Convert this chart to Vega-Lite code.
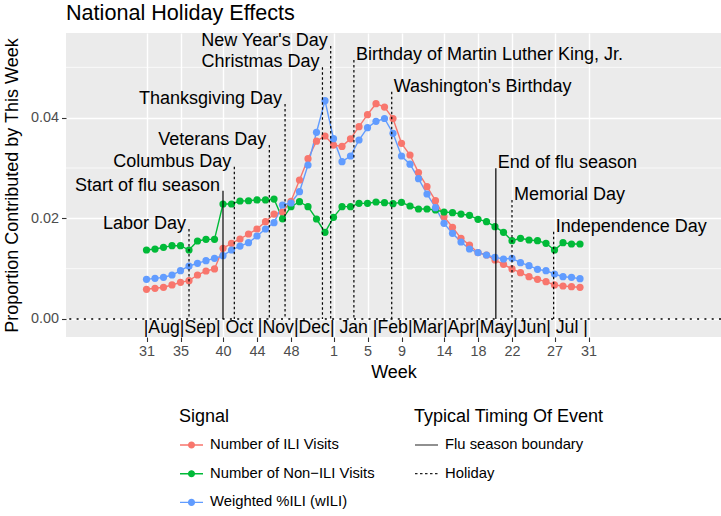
{
  "$schema": "https://vega.github.io/schema/vega-lite/v6.json",
  "width": 655,
  "height": 304,
  "autosize": {"type": "none"},
  "padding": {"left": 66, "top": 33, "right": 0, "bottom": 179},
  "background": "white",
  "title": {"text": "National Holiday Effects", "anchor": "start", "frame": "group", "fontSize": 21.6, "fontWeight": "normal", "color": "black", "baseline": "alphabetic", "offset": 15.7, "dy": 25.8},
  "config": {
    "font": "Liberation Sans",
    "view": {"fill": "#EBEBEB", "stroke": null},
    "axis": {"domain": false, "gridColor": "white", "gridWidth": 1.4, "tickColor": "#333333", "tickSize": 4.5, "tickWidth": 1.1, "labelColor": "#4D4D4D", "labelFontSize": 14.4, "labelPadding": 3, "titleFontSize": 18, "titleFontWeight": "normal", "titleColor": "black", "labelFont": "Liberation Sans", "titleFont": "Liberation Sans"},
    "legend": {"titleFontSize": 18, "titleFontWeight": "normal", "titleColor": "black", "labelFontSize": 14.8, "labelColor": "black", "titleFont": "Liberation Sans", "labelFont": "Liberation Sans", "padding": 0, "labelLimit": 400, "titleLimit": 400}
  },
  "datasets": {
    "series": [
      {"t": 0, "Number of ILI Visits": 0.0059, "Number of Non−ILI Visits": 0.01371, "Weighted %ILI (wILI)": 0.00788},
      {"t": 1, "Number of ILI Visits": 0.0061, "Number of Non−ILI Visits": 0.0139, "Weighted %ILI (wILI)": 0.00808},
      {"t": 2, "Number of ILI Visits": 0.0063, "Number of Non−ILI Visits": 0.01424, "Weighted %ILI (wILI)": 0.00828},
      {"t": 3, "Number of ILI Visits": 0.00676, "Number of Non−ILI Visits": 0.01457, "Weighted %ILI (wILI)": 0.00874},
      {"t": 4, "Number of ILI Visits": 0.00729, "Number of Non−ILI Visits": 0.01457, "Weighted %ILI (wILI)": 0.0096},
      {"t": 5, "Number of ILI Visits": 0.00762, "Number of Non−ILI Visits": 0.01371, "Weighted %ILI (wILI)": 0.01053},
      {"t": 6, "Number of ILI Visits": 0.00874, "Number of Non−ILI Visits": 0.0155, "Weighted %ILI (wILI)": 0.01106},
      {"t": 7, "Number of ILI Visits": 0.00954, "Number of Non−ILI Visits": 0.01583, "Weighted %ILI (wILI)": 0.01159},
      {"t": 8, "Number of ILI Visits": 0.00994, "Number of Non−ILI Visits": 0.01583, "Weighted %ILI (wILI)": 0.01205},
      {"t": 9, "Number of ILI Visits": 0.01404, "Number of Non−ILI Visits": 0.02285, "Weighted %ILI (wILI)": 0.01258},
      {"t": 10, "Number of ILI Visits": 0.01504, "Number of Non−ILI Visits": 0.02285, "Weighted %ILI (wILI)": 0.01371},
      {"t": 11, "Number of ILI Visits": 0.0159, "Number of Non−ILI Visits": 0.02345, "Weighted %ILI (wILI)": 0.0145},
      {"t": 12, "Number of ILI Visits": 0.01689, "Number of Non−ILI Visits": 0.0235, "Weighted %ILI (wILI)": 0.01516},
      {"t": 13, "Number of ILI Visits": 0.01788, "Number of Non−ILI Visits": 0.02365, "Weighted %ILI (wILI)": 0.01649},
      {"t": 14, "Number of ILI Visits": 0.01934, "Number of Non−ILI Visits": 0.02365, "Weighted %ILI (wILI)": 0.01788},
      {"t": 15, "Number of ILI Visits": 0.02086, "Number of Non−ILI Visits": 0.02384, "Weighted %ILI (wILI)": 0.01914},
      {"t": 16, "Number of ILI Visits": 0.02125, "Number of Non−ILI Visits": 0.0199, "Weighted %ILI (wILI)": 0.02265},
      {"t": 17, "Number of ILI Visits": 0.0234, "Number of Non−ILI Visits": 0.02232, "Weighted %ILI (wILI)": 0.02305},
      {"t": 18, "Number of ILI Visits": 0.02762, "Number of Non−ILI Visits": 0.02331, "Weighted %ILI (wILI)": 0.0253},
      {"t": 19, "Number of ILI Visits": 0.03185, "Number of Non−ILI Visits": 0.02232, "Weighted %ILI (wILI)": 0.0306},
      {"t": 20, "Number of ILI Visits": 0.03533, "Number of Non−ILI Visits": 0.01987, "Weighted %ILI (wILI)": 0.0371},
      {"t": 21, "Number of ILI Visits": 0.03636, "Number of Non−ILI Visits": 0.01722, "Weighted %ILI (wILI)": 0.04338},
      {"t": 22, "Number of ILI Visits": 0.03457, "Number of Non−ILI Visits": 0.0202, "Weighted %ILI (wILI)": 0.03583},
      {"t": 23, "Number of ILI Visits": 0.0343, "Number of Non−ILI Visits": 0.02232, "Weighted %ILI (wILI)": 0.03126},
      {"t": 24, "Number of ILI Visits": 0.0358, "Number of Non−ILI Visits": 0.02232, "Weighted %ILI (wILI)": 0.03239},
      {"t": 25, "Number of ILI Visits": 0.03822, "Number of Non−ILI Visits": 0.02298, "Weighted %ILI (wILI)": 0.03557},
      {"t": 26, "Number of ILI Visits": 0.0406, "Number of Non−ILI Visits": 0.02298, "Weighted %ILI (wILI)": 0.03802},
      {"t": 27, "Number of ILI Visits": 0.04278, "Number of Non−ILI Visits": 0.02325, "Weighted %ILI (wILI)": 0.03928},
      {"t": 28, "Number of ILI Visits": 0.04212, "Number of Non−ILI Visits": 0.02312, "Weighted %ILI (wILI)": 0.03984},
      {"t": 29, "Number of ILI Visits": 0.03984, "Number of Non−ILI Visits": 0.02292, "Weighted %ILI (wILI)": 0.0369},
      {"t": 30, "Number of ILI Visits": 0.03491, "Number of Non−ILI Visits": 0.02318, "Weighted %ILI (wILI)": 0.03239},
      {"t": 31, "Number of ILI Visits": 0.03259, "Number of Non−ILI Visits": 0.02245, "Weighted %ILI (wILI)": 0.03076},
      {"t": 32, "Number of ILI Visits": 0.0291, "Number of Non−ILI Visits": 0.02186, "Weighted %ILI (wILI)": 0.02789},
      {"t": 33, "Number of ILI Visits": 0.02629, "Number of Non−ILI Visits": 0.02186, "Weighted %ILI (wILI)": 0.02484},
      {"t": 34, "Number of ILI Visits": 0.02351, "Number of Non−ILI Visits": 0.02166, "Weighted %ILI (wILI)": 0.02212},
      {"t": 35, "Number of ILI Visits": 0.02033, "Number of Non−ILI Visits": 0.02126, "Weighted %ILI (wILI)": 0.01901},
      {"t": 36, "Number of ILI Visits": 0.01822, "Number of Non−ILI Visits": 0.02113, "Weighted %ILI (wILI)": 0.01702},
      {"t": 37, "Number of ILI Visits": 0.01603, "Number of Non−ILI Visits": 0.02086, "Weighted %ILI (wILI)": 0.0153},
      {"t": 38, "Number of ILI Visits": 0.0147, "Number of Non−ILI Visits": 0.0206, "Weighted %ILI (wILI)": 0.01391},
      {"t": 39, "Number of ILI Visits": 0.01318, "Number of Non−ILI Visits": 0.0198, "Weighted %ILI (wILI)": 0.01318},
      {"t": 40, "Number of ILI Visits": 0.01272, "Number of Non−ILI Visits": 0.01934, "Weighted %ILI (wILI)": 0.01272},
      {"t": 41, "Number of ILI Visits": 0.01172, "Number of Non−ILI Visits": 0.01835, "Weighted %ILI (wILI)": 0.01225},
      {"t": 42, "Number of ILI Visits": 0.01086, "Number of Non−ILI Visits": 0.01722, "Weighted %ILI (wILI)": 0.01192},
      {"t": 43, "Number of ILI Visits": 0.00994, "Number of Non−ILI Visits": 0.01556, "Weighted %ILI (wILI)": 0.01205},
      {"t": 44, "Number of ILI Visits": 0.0092, "Number of Non−ILI Visits": 0.01603, "Weighted %ILI (wILI)": 0.01119},
      {"t": 45, "Number of ILI Visits": 0.0084, "Number of Non−ILI Visits": 0.0157, "Weighted %ILI (wILI)": 0.0106},
      {"t": 46, "Number of ILI Visits": 0.00788, "Number of Non−ILI Visits": 0.01556, "Weighted %ILI (wILI)": 0.00987},
      {"t": 47, "Number of ILI Visits": 0.00742, "Number of Non−ILI Visits": 0.01504, "Weighted %ILI (wILI)": 0.0096},
      {"t": 48, "Number of ILI Visits": 0.00676, "Number of Non−ILI Visits": 0.01371, "Weighted %ILI (wILI)": 0.00894},
      {"t": 49, "Number of ILI Visits": 0.00656, "Number of Non−ILI Visits": 0.01516, "Weighted %ILI (wILI)": 0.0084},
      {"t": 50, "Number of ILI Visits": 0.00642, "Number of Non−ILI Visits": 0.0149, "Weighted %ILI (wILI)": 0.00828},
      {"t": 51, "Number of ILI Visits": 0.0063, "Number of Non−ILI Visits": 0.0149, "Weighted %ILI (wILI)": 0.00801}
    ],
    "events": [
      {"t": 5.0, "top": 0.01788, "label": "Labor Day", "type": "Holiday", "side": "r"},
      {"t": 9.0, "top": 0.02549, "label": "Start of flu season", "type": "Flu season boundary", "side": "r"},
      {"t": 10.33, "top": 0.03026, "label": "Columbus Day", "type": "Holiday", "side": "r"},
      {"t": 14.45, "top": 0.03457, "label": "Veterans Day", "type": "Holiday", "side": "r"},
      {"t": 16.3, "top": 0.04272, "label": "Thanksgiving Day", "type": "Holiday", "side": "r"},
      {"t": 20.7, "top": 0.05001, "label": "Christmas Day", "type": "Holiday", "side": "r"},
      {"t": 21.67, "top": 0.05425, "label": "New Year's Day", "type": "Holiday", "side": "r"},
      {"t": 24.4, "top": 0.05146, "label": "Birthday of Martin Luther King, Jr.", "type": "Holiday", "side": "l"},
      {"t": 28.85, "top": 0.04516, "label": "Washington's Birthday", "type": "Holiday", "side": "l"},
      {"t": 41.1, "top": 0.02994, "label": "End of flu season", "type": "Flu season boundary", "side": "l"},
      {"t": 43.0, "top": 0.02365, "label": "Memorial Day", "type": "Holiday", "side": "l"},
      {"t": 47.9, "top": 0.01735, "label": "Independence Day", "type": "Holiday", "side": "l"}
    ],
    "months": [
      {"t": 25.8, "y": -0.00278, "label": "|Aug|Sep| Oct |Nov|Dec| Jan |Feb|Mar|Apr|May|Jun| Jul |"}
    ],
    "minorgrid": [{"g": 0.01}, {"g": 0.03}, {"g": 0.05}],
    "zero": [{"g": 0}]
  },
  "layer": [
    {
      "data": {"name": "minorgrid"},
      "mark": {"type": "rule", "color": "white", "strokeWidth": 0.7},
      "encoding": {"y": {"field": "g", "type": "quantitative", "scale": {"domain": [-0.003577, 0.05683], "nice": false, "zero": false}}}
    },
    {
      "data": {"name": "series"},
      "transform": [{"fold": ["Number of ILI Visits", "Number of Non−ILI Visits", "Weighted %ILI (wILI)"], "as": ["s", "v"]}],
      "encoding": {
        "x": {"field": "t", "type": "quantitative", "scale": {"domain": [-9.471, 67.588], "nice": false, "zero": false},
              "axis": {"values": [0, 4, 9, 13, 17, 22, 26, 30, 35, 39, 43, 48, 52], "labelExpr": "((datum.value + 30) % 52) + 1", "title": "Week", "titlePadding": 6, "labelFlush": false, "labelOverlap": false}},
        "y": {"field": "v", "type": "quantitative", "scale": {"domain": [-0.003577, 0.05683], "nice": false, "zero": false},
              "axis": {"values": [0, 0.02, 0.04], "format": ".2f", "title": "Proportion Contributed by This Week", "titlePadding": 9, "labelOverlap": false}},
        "color": {"field": "s", "type": "nominal",
                  "scale": {"domain": ["Number of ILI Visits", "Number of Non−ILI Visits", "Weighted %ILI (wILI)"], "range": ["#F8766D", "#00BA38", "#619CFF"]},
                  "legend": {"title": "Signal", "orient": "none", "legendX": 113, "legendY": 374.5,
                             "symbolType": "M-1,0H1M0.25,0A0.25,0.25,0,1,1,-0.25,0A0.25,0.25,0,1,1,0.25,0M0.13,0A0.13,0.13,0,1,1,-0.13,0A0.13,0.13,0,1,1,0.13,0M0.03,0A0.03,0.03,0,1,1,-0.03,0A0.03,0.03,0,1,1,0.03,0",
                             "symbolSize": 529, "symbolStrokeWidth": 1.4, "rowPadding": 8.7, "titlePadding": 7, "labelOffset": 6}}
      },
      "layer": [
        {"mark": {"type": "line", "strokeWidth": 1.4}},
        {"mark": {"type": "point", "filled": true, "size": 52, "opacity": 1}}
      ]
    },
    {
      "data": {"name": "events"},
      "mark": {"type": "rule", "strokeWidth": 1.2, "color": "black"},
      "encoding": {
        "x": {"field": "t", "type": "quantitative", "scale": {"domain": [-9.471, 67.588], "nice": false, "zero": false}},
        "y": {"field": "top", "type": "quantitative", "scale": {"domain": [-0.003577, 0.05683], "nice": false, "zero": false}},
        "y2": {"datum": 0},
        "strokeDash": {"field": "type", "type": "nominal",
                       "scale": {"domain": ["Flu season boundary", "Holiday"], "range": [[1, 0], [2.5, 2.5]]},
                       "legend": {"title": "Typical Timing Of Event", "orient": "none", "legendX": 348, "legendY": 374.5, "symbolType": "stroke", "symbolSize": 529, "symbolStrokeColor": "#222222", "symbolStrokeWidth": 1.2, "rowPadding": 8.7, "titlePadding": 7, "labelOffset": 6}}
      }
    },
    {
      "data": {"name": "zero"},
      "mark": {"type": "rule", "strokeDash": [2, 5.3], "strokeWidth": 1.5, "color": "black"},
      "encoding": {"y": {"field": "g", "type": "quantitative", "scale": {"domain": [-0.003577, 0.05683], "nice": false, "zero": false}}}
    },
    {
      "data": {"name": "events"},
      "transform": [{"filter": "datum.side == 'r'"}],
      "mark": {"type": "text", "align": "right", "baseline": "alphabetic", "dx": -3, "fontSize": 18, "color": "black"},
      "encoding": {
        "x": {"field": "t", "type": "quantitative", "scale": {"domain": [-9.471, 67.588], "nice": false, "zero": false}},
        "y": {"field": "top", "type": "quantitative", "scale": {"domain": [-0.003577, 0.05683], "nice": false, "zero": false}},
        "text": {"field": "label"}
      }
    },
    {
      "data": {"name": "events"},
      "transform": [{"filter": "datum.side == 'l'"}],
      "mark": {"type": "text", "align": "left", "baseline": "alphabetic", "dx": 2, "fontSize": 18, "color": "black"},
      "encoding": {
        "x": {"field": "t", "type": "quantitative", "scale": {"domain": [-9.471, 67.588], "nice": false, "zero": false}},
        "y": {"field": "top", "type": "quantitative", "scale": {"domain": [-0.003577, 0.05683], "nice": false, "zero": false}},
        "text": {"field": "label"}
      }
    },
    {
      "data": {"name": "months"},
      "mark": {"type": "text", "align": "center", "baseline": "alphabetic", "fontSize": 17.7, "color": "black", "clip": true},
      "encoding": {
        "x": {"field": "t", "type": "quantitative", "scale": {"domain": [-9.471, 67.588], "nice": false, "zero": false}},
        "y": {"field": "y", "type": "quantitative", "scale": {"domain": [-0.003577, 0.05683], "nice": false, "zero": false}},
        "text": {"field": "label"}
      }
    }
  ]
}
